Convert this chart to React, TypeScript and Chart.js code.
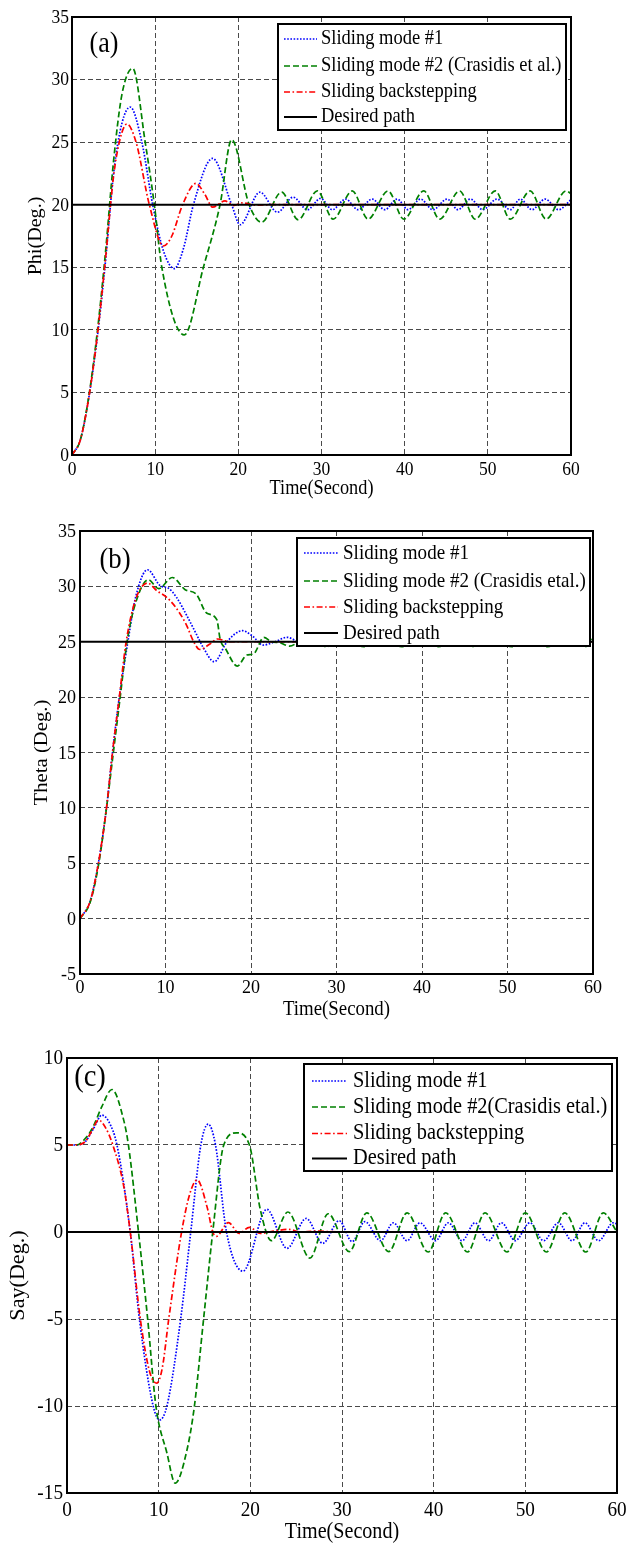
import React, { useEffect, useRef } from "react";
import { Chart, registerables } from "chart.js";

Chart.register(...registerables);

const FONT = "'Liberation Serif', 'Times New Roman', serif";
const SY = 1.1; // vertical stretch of the lettering, as in the reference

const timeTicks = [0, 10, 20, 30, 40, 50, 60];

// ---------- Panel (a): Phi ----------
const phiTicks = [0, 5, 10, 15, 20, 25, 30, 35];
const phiSm1T = [0, 1, 2, 3, 4, 5, 6, 7, 8.4, 9.7, 11, 12.3, 13.4, 14.6, 16.9, 19.2, 20.2, 22.6, 24.7, 26.6, 28.3, 29.9, 31.3, 32.9, 34.4, 36.1, 37.6, 39.1, 40.4, 41.9, 43.4, 45.1, 46.4, 47.9, 49.4, 51.1, 52.7, 53.9, 55.3, 56.9, 58.5, 60];
const phiSm1 = [0, 1.2, 4.5, 9.2, 15.3, 22.5, 26.5, 27.8, 25, 20, 16.3, 14.9, 16.5, 20, 23.7, 20, 18.4, 21.0, 19.4, 20.6, 19.6, 20.5, 19.6, 20.45, 19.6, 20.45, 19.6, 20.45, 19.6, 20.45, 19.6, 20.45, 19.6, 20.45, 19.6, 20.45, 19.6, 20.45, 19.6, 20.45, 19.6, 20.4];
const phiSm2T = [0, 1, 2, 3, 4, 5, 6, 7.3, 8.8, 9.9, 10.8, 13.5, 15.8, 17.8, 19.2, 21.3, 22.8, 25.2, 27.2, 29.5, 31.4, 33.7, 35.6, 38.0, 39.9, 42.3, 44.2, 46.6, 48.5, 50.9, 52.7, 55.1, 57.0, 59.4, 60];
const phiSm2 = [0, 1.2, 4.6, 9.6, 16, 23.5, 28.8, 30.9, 25, 20, 15, 9.6, 15, 20, 25.2, 20, 18.6, 21.0, 18.8, 21.1, 18.85, 21.1, 18.85, 21.1, 18.85, 21.1, 18.85, 21.1, 18.85, 21.1, 18.85, 21.1, 18.85, 21.1, 20.9];
const phiSbT = [0, 1, 2, 3, 4, 5, 5.8, 6.6, 7.7, 9.3, 11.0, 12.0, 13.3, 14.9, 16.0, 16.9, 18.4, 19.5, 20.5, 22, 24, 60];
const phiSb = [0, 1.2, 4.5, 9.3, 15.5, 22.3, 25.3, 26.45, 25, 20, 16.7, 17.5, 20, 21.7, 20.8, 19.8, 20.3, 19.95, 20.15, 19.97, 20, 20];
const phiDesired = 20;

// ---------- Panel (b): Theta ----------
const thetaTicks = [-5, 0, 5, 10, 15, 20, 25, 30, 35];
const thetaSm1T = [0, 1.2, 2.15, 3.1, 3.8, 4.6, 5.6, 6.5, 7.9, 9.4, 10.3, 11.3, 12.5, 13.6, 14.4, 15.7, 17.2, 19.0, 20.2, 21.4, 22.8, 24.2, 25.6, 27.4, 29.5, 32, 35, 60];
const thetaSm1 = [0, 1.6, 5, 10, 15, 20, 25, 29, 31.5, 30.05, 29.85, 29.0, 27.35, 25.7, 24.5, 23.2, 25, 26.0, 25.5, 24.7, 25.0, 25.4, 25.0, 24.85, 25.1, 24.95, 25, 25];
const thetaSm2T = [0, 1.2, 2.2, 3.1, 3.9, 4.7, 5.5, 6.5, 8.0, 9.2, 10.8, 12.3, 13.6, 14.8, 16.0, 16.4, 17.0, 18.4, 19.5, 20.3, 21.5, 22.4, 23.4, 24.5, 26.6, 28.8, 31.0, 33.2, 35.4, 37.6, 39.75, 41.9, 44.0, 46.1, 48.3, 50.5, 52.6, 54.7, 56.9, 59.1, 60];
const thetaSm2 = [0, 1.5, 5, 10, 15, 20, 25, 28.5, 30.6, 29.8, 30.8, 29.7, 29.3, 27.6, 27.0, 25.2, 24.4, 22.8, 23.8, 23.9, 25.4, 25.0, 24.9, 24.6, 25.45, 24.55, 25.45, 24.55, 25.45, 24.55, 25.45, 24.55, 25.45, 24.55, 25.45, 24.55, 25.45, 24.55, 25.45, 24.55, 25.3];
const thetaSbT = [0, 1.2, 2.15, 3.1, 3.8, 4.6, 5.4, 6.5, 7.9, 9.0, 10.0, 11.1, 12.4, 13.3, 14.0, 15.2, 16.1, 17.5, 19, 60];
const thetaSb = [0, 1.6, 5, 10, 15, 20, 25, 28.8, 30.3, 29.6, 29.1, 28.2, 26.6, 25.0, 24.3, 24.8, 25.25, 25.0, 25, 25];
const thetaDesired = 25;

// ---------- Panel (c): Say ----------
const sayTicks = [-15, -10, -5, 0, 5, 10];
const saySm1T = [0, 1, 2, 2.9, 3.8, 4.6, 5.45, 6.9, 7.9, 9.4, 10.1, 10.9, 12.4, 13.5, 14.6, 15.4, 16.2, 17.4, 19.2, 21.8, 24.0, 26.1, 27.9, 29.7, 31.1, 32.5, 34.2, 35.6, 37.1, 38.5, 40.2, 41.6, 43.1, 44.5, 46.0, 47.4, 48.9, 50.5, 52.0, 53.6, 55.1, 56.5, 58.0, 59.6, 60];
const saySm1 = [5, 5, 5.2, 5.95, 6.72, 6.3, 5, 0, -5, -10, -10.8, -10, -5, 0, 5, 6.2, 5, 0, -2.25, 1.3, -0.94, 0.78, -0.65, 0.65, -0.55, 0.6, -0.5, 0.53, -0.5, 0.53, -0.5, 0.53, -0.5, 0.53, -0.5, 0.53, -0.5, 0.53, -0.5, 0.53, -0.5, 0.53, -0.5, 0.53, 0.45];
const saySm2T = [0, 1, 2.2, 2.9, 3.8, 4.9, 6.2, 6.7, 7.8, 8.8, 9.7, 10.9, 11.8, 13.1, 13.9, 14.9, 15.9, 17.1, 18.5, 19.9, 21.1, 22.3, 24.1, 26.5, 28.5, 30.8, 32.7, 35.1, 37.1, 39.4, 41.3, 43.7, 45.6, 48.0, 50.0, 52.3, 54.3, 56.6, 58.5, 60];
const saySm2 = [5, 5, 5.5, 6.1, 7.2, 8.19, 6.4, 5, 0, -5, -10, -12.7, -14.43, -12.5, -10, -5, 0, 5, 5.7, 5, 1.26, -0.5, 1.15, -1.5, 1.05, -1.13, 1.1, -1.13, 1.1, -1.15, 1.1, -1.15, 1.1, -1.15, 1.1, -1.15, 1.1, -1.15, 1.1, 0];
const saySbT = [0, 1, 2, 2.7, 3.45, 4.2, 5.0, 6.2, 6.9, 8.0, 9.0, 9.8, 10.4, 11.1, 12.5, 13.4, 14.2, 15.3, 15.9, 16.3, 17.6, 18.8, 19.9, 21.1, 22.5, 24.2, 25.5, 27, 30, 60];
const saySb = [5, 5, 5.2, 5.8, 6.43, 6.0, 5, 2.6, 0, -5, -8, -8.69, -7.8, -5, 0, 2.2, 2.99, 1.4, 0, -0.25, 0.54, -0.08, 0.27, -0.08, 0.05, 0.15, 0.0, 0.05, 0, 0];
const sayDesired = 0;

const labelsA = ["Sliding mode #1", "Sliding mode #2 (Crasidis et al.)", "Sliding backstepping", "Desired path"];
const labelsB = ["Sliding mode #1", "Sliding mode #2 (Crasidis etal.)", "Sliding backstepping", "Desired path"];
const labelsC = ["Sliding mode #1", "Sliding mode #2(Crasidis etal.)", "Sliding backstepping", "Desired path"];

const STYLES = [
  { color: "#0000ff", dash: [1.6, 1.6], width: 1.7, order: 3 },
  { color: "#008000", dash: [6, 3], width: 1.7, order: 2 },
  { color: "#ff0000", dash: [6, 2.5, 1.6, 2.5], width: 1.7, order: 1 },
  { color: "#000000", dash: [], width: 2, order: 0 },
];

type Series = { t: number[]; v: number[] };
type PanelCfg = {
  top: number;
  height: number;
  area: { l: number; r: number; t: number; b: number };
  yTicks: number[];
  yTitle: string;
  yTitleX: number;
  xTitleY: number;
  xTickY: number;
  yTickGap: number;
  fs: number;
  letter: string;
  letterX: number;
  letterY: number;
  legend: { x: number; y: number; w: number; h: number; rows: number[]; s0: number; s1: number; tx: number; labels: string[] };
  series: Series[];
  desired: number;
};

const PANELS: PanelCfg[] = [
  {
    top: 0, height: 500,
    area: { l: 72, r: 571, t: 17, b: 455 },
    yTicks: phiTicks, yTitle: "Phi(Deg.)", yTitleX: 36, xTitleY: 489, xTickY: 470, yTickGap: 3, fs: 1,
    letter: "(a)", letterX: 104, letterY: 44,
    legend: { x: 278, y: 24, w: 288, h: 106, rows: [39, 66, 92, 117], s0: 284, s1: 317, tx: 321, labels: labelsA },
    series: [{ t: phiSm1T, v: phiSm1 }, { t: phiSm2T, v: phiSm2 }, { t: phiSbT, v: phiSb }],
    desired: phiDesired,
  },
  {
    top: 500, height: 520,
    area: { l: 80, r: 593, t: 31, b: 474 },
    yTicks: thetaTicks, yTitle: "Theta (Deg.)", yTitleX: 42, xTitleY: 510, xTickY: 488, yTickGap: 4, fs: 1.03,
    letter: "(b)", letterX: 115, letterY: 60,
    legend: { x: 297, y: 38, w: 293, h: 108, rows: [53, 81, 107, 133], s0: 304, s1: 338, tx: 343, labels: labelsB },
    series: [{ t: thetaSm1T, v: thetaSm1 }, { t: thetaSm2T, v: thetaSm2 }, { t: thetaSbT, v: thetaSb }],
    desired: thetaDesired,
  },
  {
    top: 1020, height: 523,
    area: { l: 67, r: 617, t: 38, b: 473 },
    yTicks: sayTicks, yTitle: "Say(Deg.)", yTitleX: 19, xTitleY: 512, xTickY: 490, yTickGap: 4, fs: 1.1,
    letter: "(c)", letterX: 90, letterY: 58,
    legend: { x: 304, y: 44, w: 308, h: 107, rows: [61, 87, 113.5, 138.5], s0: 312, s1: 347, tx: 353, labels: labelsC },
    series: [{ t: saySm1T, v: saySm1 }, { t: saySm2T, v: saySm2 }, { t: saySbT, v: saySb }],
    desired: sayDesired,
  },
];

const toXY = (t: number[], v: number[]) => t.map((x, i) => ({ x, y: v[i] }));

function drawText(ctx: CanvasRenderingContext2D, text: string, x: number, y: number, size: number, align: CanvasTextAlign, rotated = false) {
  ctx.save();
  ctx.translate(x, y);
  if (rotated) {
    ctx.rotate(-Math.PI / 2);
    ctx.scale(SY, 1);
  } else {
    ctx.scale(1, SY);
  }
  ctx.font = `${size}px ${FONT}`;
  ctx.textAlign = align;
  ctx.textBaseline = "middle";
  ctx.fillStyle = "#000";
  ctx.fillText(text, 0, 0);
  ctx.restore();
}

function Panel({ cfg }: { cfg: PanelCfg }) {
  const ref = useRef<HTMLCanvasElement | null>(null);
  useEffect(() => {
    const canvas = ref.current;
    if (!canvas) return;
    const a = cfg.area;
    const L = cfg.legend;
    const tickSize = 17.5 * cfg.fs;
    const titleSize = 18.3 * cfg.fs;

    const datasets: any[] = cfg.series.map((s, i) => ({
      label: L.labels[i],
      data: toXY(s.t, s.v),
      borderColor: STYLES[i].color,
      borderDash: STYLES[i].dash,
      borderWidth: STYLES[i].width,
      pointRadius: 0,
      fill: false,
      cubicInterpolationMode: "monotone",
      order: STYLES[i].order,
    }));
    datasets.push({
      label: L.labels[3],
      data: [{ x: timeTicks[0], y: cfg.desired }, { x: timeTicks[timeTicks.length - 1], y: cfg.desired }],
      borderColor: STYLES[3].color,
      borderWidth: STYLES[3].width,
      pointRadius: 0,
      fill: false,
      order: 0,
    });

    const decor = {
      id: "decor",
      afterDatasetsDraw(chart: any) {
        const { ctx, chartArea: ca, scales } = chart;
        ctx.save();
        ctx.setLineDash([]);
        ctx.strokeStyle = "#000";
        ctx.lineWidth = 2;
        ctx.strokeRect(ca.left, ca.top, ca.right - ca.left, ca.bottom - ca.top);
        // tick labels (positions from the library's scales)
        scales.x.ticks.forEach((tk: any) => {
          drawText(ctx, String(tk.value), scales.x.getPixelForValue(tk.value), cfg.xTickY, tickSize, "center");
        });
        scales.y.ticks.forEach((tk: any) => {
          drawText(ctx, String(tk.value), ca.left - cfg.yTickGap, scales.y.getPixelForValue(tk.value) + 0.8, tickSize, "right");
        });
        // axis titles
        drawText(ctx, "Time(Second)", (ca.left + ca.right) / 2, cfg.xTitleY, titleSize, "center");
        drawText(ctx, cfg.yTitle, cfg.yTitleX, (ca.top + ca.bottom) / 2, titleSize, "center", true);
        // legend box
        ctx.fillStyle = "#fff";
        ctx.fillRect(L.x, L.y, L.w, L.h);
        ctx.strokeStyle = "#000";
        ctx.lineWidth = 2;
        ctx.strokeRect(L.x, L.y, L.w, L.h);
        STYLES.forEach((st, i) => {
          const y = L.rows[i];
          ctx.beginPath();
          ctx.strokeStyle = st.color;
          ctx.lineWidth = st.width;
          ctx.setLineDash(st.dash);
          ctx.moveTo(L.s0, y);
          ctx.lineTo(L.s1, y);
          ctx.stroke();
          ctx.setLineDash([]);
          drawText(ctx, L.labels[i], L.tx, y, 18.5 * cfg.fs, "left");
        });
        drawText(ctx, cfg.letter, cfg.letterX, cfg.letterY, 26 * cfg.fs, "center");
        ctx.restore();
      },
    };

    const gridCommon = { color: "#4a4a4a", lineWidth: 1, drawTicks: false };
    const chart = new Chart(canvas, {
      type: "line",
      data: { datasets },
      plugins: [decor],
      options: {
        responsive: false,
        maintainAspectRatio: false,
        animation: false,
        events: [],
        layout: { padding: { left: 0, right: 629 - a.r, top: a.t, bottom: 0 } },
        plugins: { legend: { display: false }, tooltip: { enabled: false }, title: { display: false } },
        scales: {
          x: {
            type: "linear",
            min: timeTicks[0],
            max: timeTicks[timeTicks.length - 1],
            afterFit: (s: any) => { s.height = cfg.height - a.b; },
            afterBuildTicks: (s: any) => { s.ticks = timeTicks.map((value) => ({ value })); },
            ticks: { display: false, autoSkip: false },
            grid: gridCommon,
            border: { display: false, dash: [5, 3] },
            title: { display: false },
          },
          y: {
            type: "linear",
            min: cfg.yTicks[0],
            max: cfg.yTicks[cfg.yTicks.length - 1],
            afterFit: (s: any) => { s.width = a.l; },
            afterBuildTicks: (s: any) => { s.ticks = cfg.yTicks.map((value) => ({ value })); },
            ticks: { display: false, autoSkip: false },
            grid: gridCommon,
            border: { display: false, dash: [5, 3] },
            title: { display: false },
          },
        },
      } as any,
    });
    return () => chart.destroy();
  }, [cfg]);

  return (
    <canvas
      ref={ref}
      width={629}
      height={cfg.height}
      style={{ position: "absolute", left: 0, top: cfg.top, width: 629, height: cfg.height, display: "block" }}
    />
  );
}

export default function App() {
  return (
    <div style={{ position: "absolute", left: 0, top: 0, width: 629, height: 1543, background: "#fff", overflow: "hidden" }}>
      {PANELS.map((p, i) => (
        <Panel key={i} cfg={p} />
      ))}
    </div>
  );
}
